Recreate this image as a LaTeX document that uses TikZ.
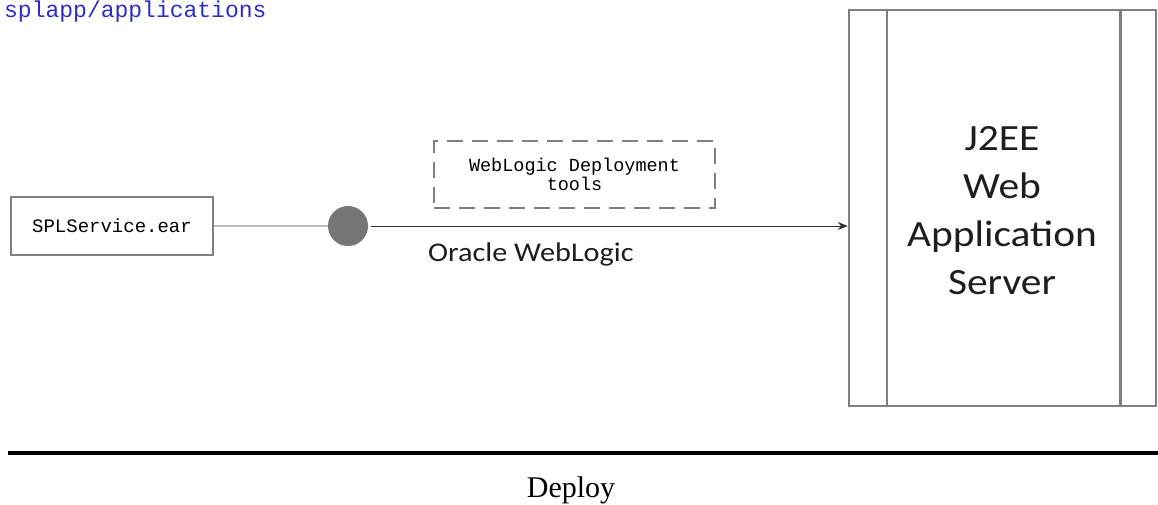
\documentclass[tikz,border=0pt]{standalone}
\usepackage{fontspec}
\setmainfont{Carlito}
\newfontfamily\monof{Liberation Mono}
\newfontfamily\seriff{Liberation Serif}
\usetikzlibrary{arrows.meta}
\definecolor{pathblue}{RGB}{45,45,205}
\definecolor{boxgray}{RGB}{128,128,128}
\definecolor{linegray}{RGB}{190,190,190}
\definecolor{dotgray}{RGB}{118,118,118}
\definecolor{arrowdark}{RGB}{50,50,50}
\definecolor{textdark}{RGB}{30,30,30}
\tikzset{
  filebox/.style={draw=boxgray, line width=2pt, minimum width=202pt, minimum height=58pt, inner sep=0pt, font=\monof\fontsize{19}{20}\selectfont},
  toolbox/.style={draw=boxgray, line width=2pt, dash pattern=on 16pt off 9pt, minimum width=281pt, minimum height=67pt, inner sep=0pt, align=center, font=\monof\fontsize{18.5}{19}\selectfont},
  serverbox/.style={draw=boxgray, line width=2.5pt, minimum width=307pt, minimum height=396pt, inner sep=0pt},
  dotnode/.style={circle, fill=dotgray, minimum size=40pt, inner sep=0pt},
  plainlabel/.style={inner sep=0pt, text=textdark}
}
\begin{document}
\begin{tikzpicture}[x=1pt,y=-1pt]
\useasboundingbox (0,0) rectangle (1158,504);
\fill[white] (0,0) rectangle (1158,504);
\node[plainlabel, anchor=west, text=pathblue, font=\monof\fontsize{23}{24}\selectfont] (path) at (4,12) {splapp/applications};
\node[filebox] (ear) at (112,226) {SPLService.ear};
\node[dotnode] (dot) at (348,226) {};
\node[toolbox] (tools) at (574.5,174.5) {WebLogic Deployment\\tools};
\node[serverbox] (server) at (1002.5,208) {};
\draw[boxgray, line width=2.5pt] ([xshift=39pt]server.north west) -- ([xshift=39pt]server.south west);
\draw[boxgray, line width=2.5pt] ([xshift=-37pt]server.north east) -- ([xshift=-37pt]server.south east);
\node[plainlabel] (srvtext) at (1002,213) {\scalebox{1.12}[1]{\fontsize{37}{48}\selectfont\begin{tabular}{@{}c@{}}J2EE\\Web\\Application\\Server\end{tabular}}};
\draw[linegray, line width=2pt] (ear.east) -- (dot.west);
\draw[arrowdark, line width=1pt, -{Stealth[length=10pt,width=8pt]}] ([xshift=3pt]dot.east) -- (dot.east -| server.west);
\node[plainlabel, anchor=base west] (oracle) at (428,261) {\scalebox{1.12}[1]{\fontsize{27}{28}\selectfont Oracle WebLogic}};
\coordinate (ruleL) at (8,453);
\coordinate (ruleR) at (1158,453);
\draw[black, line width=4.5pt] (ruleL) -- (ruleR);
\node[plainlabel, anchor=base, font=\seriff\fontsize{30}{32}\selectfont, text=black] (deploy) at (571,497) {Deploy};
\end{tikzpicture}
\end{document}
